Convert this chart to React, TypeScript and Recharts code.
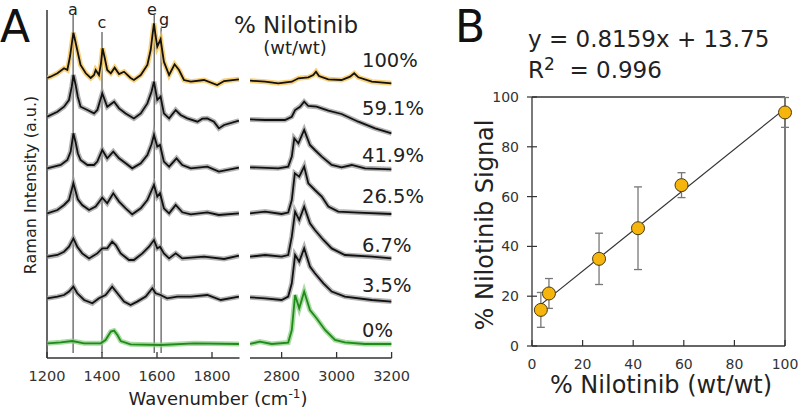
import React from 'react';
import {
  LineChart, Line, XAxis, YAxis, ReferenceLine, ComposedChart, Scatter, ErrorBar,
} from 'recharts';

// ---------- Panel A: Raman spectra (wavenumber, relative intensity above baseline) ----------
const spectrumLabels = ['100%', '59.1%', '41.9%', '26.5%', '6.7%', '3.5%', '0%'];
const baselineOffsets = [280, 241.3, 189.7, 144.7, 101.3, 59.7, 14.7];

const s100L = [[1201,0],[1213,1.3],[1238,4.7],[1262,9.7],[1274,8],[1284,22],[1291,36],[1296,45.3],[1302,38],[1310,28],[1322,13],[1341,4.7],[1359,0],[1371,3],[1377,8],[1389,3],[1396,14],[1402,29.7],[1410,20],[1419,8],[1432,4.7],[1446,10.3],[1462,4],[1480,6.3],[1504,0],[1516,-2],[1541,3],[1565,13],[1577,28],[1584,44],[1589,54.7],[1595,42],[1601,31.3],[1613,38.7],[1625,16.3],[1644,3],[1664,13.7],[1680,8],[1698,-2],[1723,-3.7],[1771,-2],[1819,-7],[1844,-3],[1898,-1.3]];
const s100R = [[2685,-2.7],[2740,-3.7],[2788,-5.3],[2837,-3.7],[2861,-0.3],[2897,0.7],[2915,3],[2925,6.3],[2936,2],[2970,-1.3],[3018,-2],[3049,1.3],[3064,4.7],[3079,0.7],[3128,-3.7],[3200,-5.3]];

const s59L = [[1201,0],[1238,5],[1262,10],[1280,16.7],[1290,30],[1296,41.7],[1304,32],[1312,20],[1322,10],[1347,6.7],[1371,3.3],[1383,6.7],[1401,23.3],[1419,10],[1444,15],[1462,8.3],[1486,3.3],[1516,-1.7],[1541,3.3],[1565,13.3],[1580,25],[1589,35],[1601,16.7],[1613,20],[1625,3.3],[1644,-1.7],[1668,6.7],[1686,1.7],[1710,-1.7],[1747,-5],[1765,-2],[1783,-1.7],[1807,-5],[1825,-11.7],[1844,-8.3],[1898,-4]];
const s59R = [[2685,-2.7],[2740,-3.3],[2812,-3.3],[2837,0],[2849,6.7],[2867,10],[2882,15],[2897,10.7],[2927,10],[2970,6],[3018,2.7],[3079,-5],[3140,-11.7],[3200,-16.7]];

const s42L = [[1201,0],[1225,1.7],[1250,3.3],[1274,8.3],[1286,16.7],[1296,35],[1304,26],[1312,15],[1322,8.3],[1347,3.3],[1371,3.3],[1383,6.7],[1401,18.3],[1419,10],[1441,16.7],[1462,10],[1486,5],[1510,0],[1541,5],[1565,13.3],[1580,24],[1589,33.3],[1601,21.7],[1611,23.3],[1625,6.7],[1644,1.7],[1671,10],[1692,3.3],[1723,0],[1783,1.7],[1825,-3.3],[1898,0.7]];
const s42R = [[2685,1],[2788,0],[2824,1.7],[2837,11.7],[2846,30],[2861,25],[2882,38.3],[2903,23.3],[2921,18.3],[2946,11.7],[2982,3.3],[3018,1],[3055,3.3],[3103,0],[3200,-1]];

const s26L = [[1201,0],[1238,3.3],[1262,8.3],[1280,13.3],[1296,30],[1304,22],[1312,14],[1328,8.3],[1353,3.3],[1377,6.7],[1401,15.7],[1419,10],[1441,20],[1462,11.7],[1486,5],[1510,-1],[1541,5],[1565,13.3],[1589,28.3],[1601,16.7],[1611,20],[1625,5],[1644,0],[1668,8.3],[1692,1],[1723,-1],[1783,1],[1825,-1.7],[1898,0]];
const s26R = [[2685,0],[2740,1.7],[2800,-0.7],[2824,0.7],[2837,13.3],[2848,40],[2864,36.7],[2882,46.7],[2897,30],[2921,23.3],[2946,16.7],[2970,6.7],[3006,1.7],[3079,0.7],[3200,-0.7]];

const s7L = [[1201,0],[1238,1.7],[1262,5],[1280,10],[1296,18.3],[1310,10],[1328,3.3],[1353,-1.7],[1383,3.3],[1401,8.3],[1419,8.3],[1437,15],[1450,11.7],[1468,3.3],[1498,-3.3],[1516,-3.3],[1547,3.3],[1571,10],[1589,16.7],[1601,8.3],[1611,10],[1625,3.3],[1644,-1.7],[1668,3.3],[1692,-1.7],[1771,0],[1844,-2.3],[1898,1]];
const s7R = [[2685,0],[2740,1.7],[2800,0],[2824,1.7],[2837,20],[2849,45],[2864,36.7],[2882,50],[2903,33.3],[2921,26.7],[2952,16.7],[2982,8.3],[3030,1.7],[3128,0],[3200,-1.7]];

const s35L = [[1201,0],[1238,1.7],[1262,3.3],[1280,6.7],[1296,11.7],[1310,5],[1335,-1.7],[1365,-5],[1389,0],[1413,3.3],[1437,11.7],[1456,5],[1480,-3.3],[1504,-6.7],[1528,-3.3],[1559,1.7],[1583,10],[1595,5],[1613,3.3],[1637,0],[1674,1.7],[1723,1.7],[1783,3.3],[1832,-1.7],[1898,1.7]];
const s35R = [[2685,1],[2740,0],[2800,-1.7],[2824,1.7],[2837,15],[2849,43.3],[2864,36.7],[2882,50],[2903,31.7],[2921,25],[2952,15],[2982,6.7],[3030,1.7],[3128,-1.7],[3200,-3.3]];

const s0L = [[1201,0],[1250,1],[1292,2.3],[1335,0],[1395,0],[1413,3.3],[1432,11.7],[1444,12.7],[1456,8.3],[1468,2.3],[1504,-1],[1613,-1.7],[1735,0],[1898,-0.7]];
const s0R = [[2685,-0.7],[2721,1.7],[2764,-0.7],[2824,0.7],[2837,13.3],[2849,48.3],[2864,35],[2882,51.7],[2903,33.3],[2927,25],[2958,13.3],[2994,3.3],[3030,1],[3103,-0.7],[3200,-0.7]];

const leftSpectra = [s100L, s59L, s42L, s26L, s7L, s35L, s0L];
const rightSpectra = [s100R, s59R, s42R, s26R, s7R, s35R, s0R];

const peakLetters = ['a', 'c', 'e', 'g'];
const peakPositions = [1295, 1400, 1590, 1615];
const peakLineTops = [343, 326, 343, 330];

const leftTicks = [1200, 1400, 1600, 1800];
const rightTicks = [2800, 3000, 3200];

// ---------- Panel B: calibration ----------
const nominalPct = [3.5, 6.7, 26.5, 41.9, 59.1, 100];
const signalPct = [14.5, 21.1, 35, 47.3, 64.6, 93.8];
const signalErr = [7, 6, 10.3, 16.6, 5, 6];
const fitSlope = 0.8159;
const fitIntercept = 13.75;
const fitRange = [3.5, 100];
const bTicks = [0, 20, 40, 60, 80, 100];

const FONT = 'DejaVu Sans, Verdana, sans-serif';
const TXT = '#222';

const envColors = ['#f6c04a', '#9a9a9a', '#9a9a9a', '#9a9a9a', '#9a9a9a', '#9a9a9a', '#8ccf84'];
const lineColors = ['#111', '#111', '#111', '#111', '#111', '#111', '#1f8a1a'];

function toData(pairs: number[][], off: number) {
  return pairs.map(([x, y]) => ({ x, y: y + off }));
}

const BottomTickA = (props: any) => {
  const { x, y, payload } = props;
  return (
    <g>
      <line x1={x} x2={x} y1={y} y2={y - 6} stroke="#333" strokeWidth={1.3} />
      <text x={x} y={y + 23} textAnchor="middle" fontSize={14.5} fill="#333" fontFamily={FONT}>
        {payload.value}
      </text>
    </g>
  );
};

const BottomTickB = (props: any) => {
  const { x, y, payload } = props;
  return (
    <g>
      <line x1={x} x2={x} y1={y} y2={y - 6} stroke="#333" strokeWidth={1.2} />
      <text x={x} y={y + 23} textAnchor="middle" fontSize={14} fill="#333" fontFamily={FONT}>
        {payload.value}
      </text>
    </g>
  );
};

const LeftTickB = (props: any) => {
  const { x, y, payload } = props;
  return (
    <g>
      <line x1={x - 5} x2={x + 5} y1={y} y2={y} stroke="#333" strokeWidth={1.2} />
      <text x={x - 13} y={y + 5} textAnchor="end" fontSize={14} fill="#333" fontFamily={FONT}>
        {payload.value}
      </text>
    </g>
  );
};

function SpectraPanel(props: { spectra: number[][][]; domain: [number, number]; ticks: number[]; left: number; width: number; ml: number; mr: number; showAxis: boolean }) {
  const { spectra, domain, ticks, left, width, ml, mr, showAxis } = props;
  return (
    <div style={{ position: 'absolute', left, top: 0 }}>
      <LineChart width={width} height={410} margin={{ top: 8, right: mr, left: ml, bottom: 22 }}>
        <XAxis
          type="number"
          dataKey="x"
          domain={domain}
          ticks={ticks}
          allowDataOverflow
          height={30}
          axisLine={{ stroke: '#333', strokeWidth: 1.5 }}
          tickLine={false}
          tickSize={0}
          tickMargin={0}
          tick={<BottomTickA />}
        />
        <YAxis type="number" domain={[0, 350]} hide allowDataOverflow />
        {showAxis && (
          <ReferenceLine
            segment={[{ x: domain[0], y: 0 }, { x: domain[0], y: 348 }]}
            stroke="#333"
            strokeWidth={1.5}
            ifOverflow="visible"
          />
        )}
        {showAxis &&
          peakPositions.map((p, i) => (
            <ReferenceLine
              key={'pk' + i}
              segment={[{ x: p, y: 5 }, { x: p, y: peakLineTops[i] }]}
              stroke="#6a6a6a"
              strokeWidth={1.4}
              ifOverflow="visible"
            />
          ))}
        {spectra.map((s, i) => (
          <Line
            key={'env' + i}
            data={toData(s, baselineOffsets[i])}
            dataKey="y"
            type="linear"
            stroke={envColors[i]}
            strokeOpacity={0.75}
            strokeWidth={5}
            dot={false}
            activeDot={false}
            isAnimationActive={false}
          />
        ))}
        {spectra.map((s, i) => (
          <Line
            key={'ln' + i}
            data={toData(s, baselineOffsets[i])}
            dataKey="y"
            type="linear"
            stroke={lineColors[i]}
            strokeWidth={1.8}
            dot={false}
            activeDot={false}
            isAnimationActive={false}
          />
        ))}
      </LineChart>
    </div>
  );
}

export default function App() {
  const points = nominalPct.map((x, i) => ({ x, y: signalPct[i], err: signalErr[i] }));
  const fitData = fitRange.map((x) => ({ x, y: fitSlope * x + fitIntercept }));
  const pctBaselines = [67, 115, 162, 203, 252, 292, 337];
  const letterPos = [
    { x: 73, y: 15 },
    { x: 102, y: 28 },
    { x: 152, y: 15 },
    { x: 164, y: 25 },
  ];
  return (
    <div style={{ position: 'absolute', left: 0, top: 0, width: 800, height: 410, background: '#fff' }}>
      <SpectraPanel spectra={leftSpectra} domain={[1200, 1900]} ticks={leftTicks} left={0} width={245} ml={47} mr={5.5} showAxis />
      <SpectraPanel spectra={rightSpectra} domain={[2685, 3200]} ticks={rightTicks} left={245} width={175} ml={5} mr={28.4} showAxis={false} />

      <div style={{ position: 'absolute', left: 480, top: 80 }}>
        <ComposedChart width={320} height={330} margin={{ top: 17, right: 15, left: 12, bottom: 34 }}>
          <XAxis
            type="number"
            dataKey="x"
            domain={[0, 100]}
            ticks={bTicks}
            height={30}
            axisLine={{ stroke: '#333', strokeWidth: 1.3 }}
            tickLine={false}
            tickSize={0}
            tickMargin={0}
            tick={<BottomTickB />}
          />
          <YAxis
            type="number"
            domain={[0, 100]}
            ticks={bTicks}
            width={40}
            axisLine={{ stroke: '#333', strokeWidth: 1.3 }}
            tickLine={false}
            tickSize={0}
            tickMargin={0}
            tick={<LeftTickB />}
          />
          <ReferenceLine y={100} stroke="#333" strokeWidth={1.3} />
          <ReferenceLine x={100} stroke="#333" strokeWidth={1.3} />
          <Line data={fitData} dataKey="y" type="linear" stroke="#333" strokeWidth={1.2} dot={false} activeDot={false} isAnimationActive={false} />
          <Scatter
            data={points}
            dataKey="y"
            isAnimationActive={false}
            shape={(p: any) => <circle cx={p.cx} cy={p.cy} r={6.5} fill="#f5b50c" stroke="#4a3a10" strokeWidth={1} />}
          >
            <ErrorBar dataKey="err" direction="y" width={4} stroke="#777" strokeWidth={1.3} />
          </Scatter>
        </ComposedChart>
      </div>

      <svg width={800} height={410} style={{ position: 'absolute', left: 0, top: 0, pointerEvents: 'none' }} fontFamily={FONT}>
        <text x={0} y={42} fontSize={44} fill="#111">A</text>
        <text x={455} y={42} fontSize={44} fill="#111">B</text>
        {peakLetters.map((l, i) => (
          <text key={l} x={letterPos[i].x} y={letterPos[i].y} fontSize={16} textAnchor="middle" fill={TXT}>{l}</text>
        ))}
        <text x={296} y={33} fontSize={23} textAnchor="middle" fill={TXT}>% Nilotinib</text>
        <text x={295} y={54} fontSize={18} textAnchor="middle" fill={TXT}>(wt/wt)</text>
        {spectrumLabels.map((l, i) => (
          <text key={l} x={362} y={pctBaselines[i]} fontSize={19.5} fill={TXT}>{l}</text>
        ))}
        <text x={30} y={185} fontSize={16} textAnchor="middle" dominantBaseline="central" transform="rotate(-90 30 185)" fill={TXT}>
          Raman Intensity (a.u.)
        </text>
        <text x={218} y={405} fontSize={18} textAnchor="middle" fill={TXT}>
          Wavenumber (cm<tspan dy={-7} fontSize={12}>-1</tspan><tspan dy={7}>)</tspan>
        </text>
        <text x={528} y={47} fontSize={23} fill={TXT}>y = 0.8159x + 13.75</text>
        <text x={528} y={78} fontSize={23} fill={TXT}>
          R<tspan dy={-8} fontSize={17}>2</tspan><tspan dy={8} xmlSpace="preserve">{'  = 0.996'}</tspan>
        </text>
        <text x={485} y={225} fontSize={24} textAnchor="middle" dominantBaseline="central" transform="rotate(-90 485 225)" fill={TXT}>
          % Nilotinib Signal
        </text>
        <text x={661} y={393} fontSize={24} textAnchor="middle" fill={TXT}>% Nilotinib (wt/wt)</text>
      </svg>
    </div>
  );
}
